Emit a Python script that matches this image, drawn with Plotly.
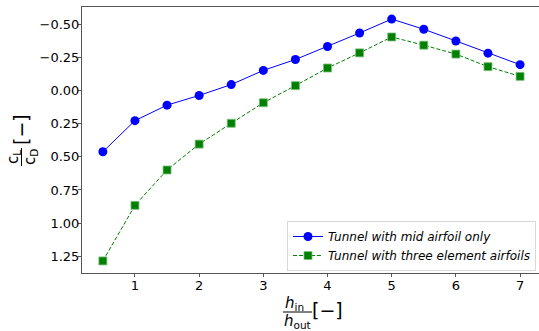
import plotly.graph_objects as go

h_ratio = [0.5, 1.0, 1.5, 2.0, 2.5, 3.0, 3.5, 4.0, 4.5, 5.0, 5.5, 6.0, 6.5, 7.0]
mid_only = [0.462, 0.227, 0.110, 0.037, -0.045, -0.152, -0.234, -0.332, -0.434, -0.539,
            -0.462, -0.374, -0.282, -0.195]
three_elem = [1.285, 0.866, 0.599, 0.404, 0.247, 0.092, -0.037, -0.170, -0.284, -0.404,
              -0.342, -0.275, -0.180, -0.107]
ytick_vals = [-0.50, -0.25, 0.00, 0.25, 0.50, 0.75, 1.00, 1.25]
ytick_text = ["\u22120.50", "\u22120.25", "0.00", "0.25", "0.50", "0.75", "1.00", "1.25"]
xtick_vals = [1, 2, 3, 4, 5, 6, 7]

W, H = 539, 331
L, T, R, B = 82, 7, 0, 58
pw, ph = W - L - R, H - T - B

def px(x):
    return (x - L) / pw

def py(y):
    return (H - B - y) / ph

font = "DejaVu Sans"

fig = go.Figure()
fig.add_trace(go.Scatter(
    x=h_ratio, y=mid_only, mode="lines+markers",
    name="<i>Tunnel with mid airfoil only</i>",
    line=dict(color="blue", width=1),
    marker=dict(symbol="circle", size=9, color="blue"),
))
fig.add_trace(go.Scatter(
    x=h_ratio, y=three_elem, mode="lines+markers",
    name="<i>Tunnel with three element airfoils</i>",
    line=dict(color="green", width=1, dash="4px,2px"),
    marker=dict(symbol="square", size=8, color="green",
                line=dict(color="#7fbf7f", width=0.8)),
))

axis_common = dict(
    showgrid=False, zeroline=False, showline=True, mirror=True,
    linecolor="#555", linewidth=1, ticks="outside", ticklen=3,
    tickcolor="#555", tickfont=dict(family=font, size=13, color="black"),
    automargin=False,
)

fig.update_layout(
    width=W, height=H,
    margin=dict(l=L, r=R, t=T, b=B, pad=0, autoexpand=False),
    paper_bgcolor="white", plot_bgcolor="white",
    font=dict(family=font, color="black"),
    xaxis=dict(range=[0.175, 7.295], tickvals=xtick_vals, ticklabelstandoff=-3,
               **axis_common),
    yaxis=dict(range=[1.376, -0.63], tickvals=ytick_vals, ticktext=ytick_text,
               ticklabelstandoff=-4, **axis_common),
    legend=dict(
        x=px(287), y=py(271), xanchor="left", yanchor="bottom",
        bgcolor="rgba(255,255,255,0.8)", bordercolor="#d8d8d8", borderwidth=1,
        font=dict(family=font, size=12, color="black"),
        itemwidth=30, tracegroupgap=0,
    ),
    showlegend=True,
)

def note(text, x, y, size, angle=0):
    return dict(text=text, x=px(x), y=py(y), xref="paper", yref="paper",
                xanchor="center", yanchor="middle", showarrow=False,
                textangle=angle, font=dict(family=font, size=size, color="black"))

ann = [
    # x-axis label: h_in / h_out [−]
    note("<i>h</i><sub>in</sub>", 294, 303, 15),
    note("<i>h</i><sub>out</sub>", 297, 321, 15),
    note("[\u2212]", 327, 310, 19),
    # y-axis label: c_L / c_D [−]
    note("c<sub>L</sub>", 13, 157, 15, -90),
    note("c<sub>D</sub>", 30, 157, 15, -90),
    note("[\u2212]", 21, 129, 19, -90),
]
fig.update_layout(annotations=ann)

fig.add_shape(type="line", xref="paper", yref="paper",
              x0=px(283), x1=px(312), y0=py(312), y1=py(312),
              line=dict(color="black", width=1))
fig.add_shape(type="line", xref="paper", yref="paper",
              x0=px(21.5), x1=px(21.5), y0=py(148), y1=py(166),
              line=dict(color="black", width=1))

fig.write_html("out.html", config={"displayModeBar": False},
               post_script="document.body.style.margin='0';")
